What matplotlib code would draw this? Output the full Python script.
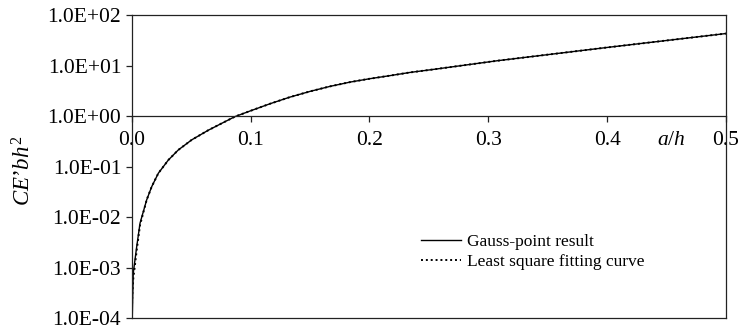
import matplotlib.pyplot as plt
from matplotlib.ticker import FuncFormatter

plt.rcParams['font.family'] = 'Liberation Serif'
plt.rcParams['mathtext.fontset'] = 'custom'
plt.rcParams['mathtext.rm'] = 'Liberation Serif'
plt.rcParams['mathtext.it'] = 'Liberation Serif:italic'

a_h = [0.0, 0.0005, 0.0013, 0.0042, 0.007, 0.0126, 0.0168, 0.0224, 0.0308,
       0.0392, 0.0505, 0.0644, 0.0785, 0.0869, 0.0995, 0.1165, 0.133, 0.150,
       0.167, 0.184, 0.2005, 0.217, 0.234, 0.254, 0.307, 0.4, 0.5]
gauss = [1.0e-4, 1.1e-4, 7.8e-4, 2.6e-3, 7.6e-3, 0.022, 0.040, 0.074, 0.135,
         0.214, 0.339, 0.525, 0.776, 0.977, 1.26, 1.76, 2.37, 3.08,
         3.88, 4.72, 5.5, 6.3, 7.3, 8.4, 12.4, 22.8, 43.0]
fit = [1.0e-4, 3.0e-4, 6.0e-4, 2.2e-3, 7.0e-3, 0.022, 0.040, 0.074, 0.135,
       0.214, 0.339, 0.525, 0.776, 0.977, 1.26, 1.76, 2.37, 3.08,
       3.88, 4.72, 5.5, 6.3, 7.3, 8.4, 12.4, 22.8, 43.0]
x_ticks = [0.0, 0.1, 0.2, 0.3, 0.4, 0.5]
y_ticks = [1e-4, 1e-3, 1e-2, 1e-1, 1e0, 1e1, 1e2]

fig = plt.figure(figsize=(7.43, 3.32), dpi=100)
ax = fig.add_axes([131.7 / 743, 1 - 318.3 / 332, (726 - 131.7) / 743, (318.3 - 15) / 332])

ax.plot(a_h, gauss, color='black', lw=1.0, label='Gauss-point result')
ax.plot(a_h, fit, color='black', lw=1.4, ls=(0, (1, 1.5)), label='Least square fitting curve')

ax.set_yscale('log')
ax.set_xlim(0, 0.5)
ax.set_ylim(1e-4, 1e2)
ax.set_yticks(y_ticks)
ax.minorticks_off()
ax.yaxis.set_major_formatter(FuncFormatter(lambda v, p: '%.1E' % v))
ax.set_xticks(x_ticks)
ax.xaxis.set_major_formatter(FuncFormatter(lambda v, p: '%.1f' % v))

for s in ax.spines.values():
    s.set_linewidth(0.9)
    s.set_color('#222222')
# ось x проходит через y = 1
ax.spines['bottom'].set_position(('data', 1.0))
ax.axhline(1e-4, color='#222222', lw=0.9, clip_on=False)

ax.tick_params(axis='both', direction='out', length=4, width=0.9,
               labelsize=15.5, color='#222222')
ax.tick_params(axis='x', pad=6.5)

fig.text(24 / 743, 1 - 171 / 332, "$CE\u2019bh^{\\mathrm{2}}$", rotation=90,
         ha='center', va='center', fontsize=16.5)
fig.text(671 / 743, 1 - 141 / 332, r"$a/h$", ha='center', va='center', fontsize=15.5)

ax.legend(loc='upper left', bbox_to_anchor=(421 / 743, 1 - 234 / 332),
          bbox_transform=fig.transFigure, frameon=False, fontsize=12.5,
          borderpad=0, borderaxespad=0, handlelength=2.3, handletextpad=0.35,
          labelspacing=0.2)

fig.savefig('out.png', dpi=100)
